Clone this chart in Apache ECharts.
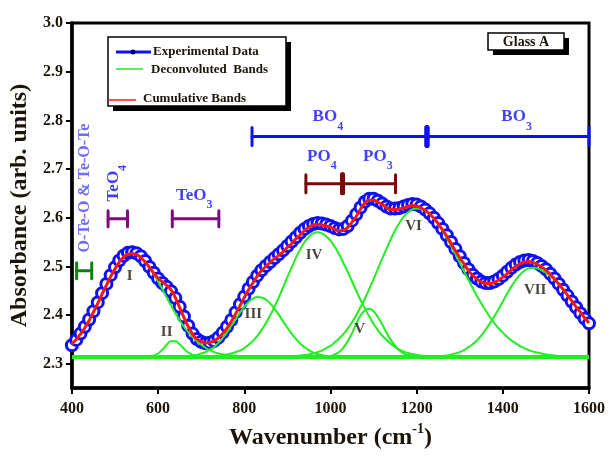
<!DOCTYPE html>
<html>
<head>
<meta charset="utf-8">
<script src="https://cdn.jsdelivr.net/npm/echarts@6/dist/echarts.min.js"></script>
<style>
  html, body { margin: 0; padding: 0; background: #fff; }
  #chart { width: 608px; height: 455px; }
</style>
</head>
<body>
<div id="chart"></div>
<script>
// ---- axis ticks ----
const xTicks = [400, 600, 800, 1000, 1200, 1400, 1600];
const yTicks = [2.3, 2.4, 2.5, 2.6, 2.7, 2.8, 2.9, 3.0];

// ---- spectra sampled every 10 cm-1 ----
const gridStep = 10;
const spectrumStart = 400;
const experimental = [
  2.338, 2.349, 2.362, 2.376, 2.391, 2.408, 2.426, 2.445, 2.464, 2.482,
  2.498, 2.512, 2.522, 2.528, 2.529, 2.527, 2.521, 2.511, 2.499, 2.487,
  2.475, 2.466, 2.458, 2.449, 2.435, 2.417, 2.397, 2.378, 2.362, 2.351,
  2.345, 2.342, 2.343, 2.347, 2.354, 2.364, 2.376, 2.390, 2.406, 2.422,
  2.438, 2.454, 2.468, 2.481, 2.492, 2.501, 2.509, 2.517, 2.525, 2.533,
  2.542, 2.551, 2.560, 2.569, 2.577, 2.583, 2.587, 2.589, 2.588, 2.586,
  2.583, 2.579, 2.576, 2.577, 2.583, 2.594, 2.607, 2.621, 2.633, 2.639,
  2.639, 2.635, 2.629, 2.623, 2.619, 2.619, 2.620, 2.623, 2.626, 2.628,
  2.627, 2.623, 2.617, 2.609, 2.600, 2.589, 2.577, 2.564, 2.550, 2.536,
  2.521, 2.507, 2.494, 2.483, 2.475, 2.469, 2.466, 2.466, 2.469, 2.474,
  2.481, 2.489, 2.497, 2.504, 2.509, 2.512, 2.513, 2.511, 2.507, 2.501,
  2.494, 2.485, 2.475, 2.464, 2.452, 2.440, 2.428, 2.416, 2.404, 2.393,
  2.383
];
const cumulative = [
  2.341, 2.350, 2.361, 2.374, 2.389, 2.406, 2.424, 2.443, 2.461, 2.479,
  2.495, 2.509, 2.519, 2.525, 2.526, 2.524, 2.518, 2.509, 2.498, 2.486,
  2.476, 2.468, 2.461, 2.452, 2.436, 2.416, 2.395, 2.376, 2.361, 2.351,
  2.346, 2.343, 2.344, 2.347, 2.353, 2.362, 2.373, 2.387, 2.403, 2.419,
  2.436, 2.452, 2.466, 2.480, 2.491, 2.500, 2.508, 2.516, 2.523, 2.530,
  2.539, 2.547, 2.557, 2.565, 2.574, 2.580, 2.585, 2.586, 2.585, 2.583,
  2.580, 2.576, 2.573, 2.574, 2.580, 2.591, 2.603, 2.618, 2.630, 2.636,
  2.636, 2.632, 2.627, 2.621, 2.617, 2.617, 2.618, 2.620, 2.623, 2.625,
  2.624, 2.620, 2.615, 2.608, 2.599, 2.588, 2.575, 2.562, 2.547, 2.532,
  2.518, 2.505, 2.492, 2.482, 2.474, 2.468, 2.465, 2.465, 2.467, 2.472,
  2.478, 2.485, 2.493, 2.500, 2.505, 2.509, 2.510, 2.508, 2.504, 2.499,
  2.492, 2.484, 2.474, 2.464, 2.453, 2.441, 2.429, 2.417, 2.406, 2.394,
  2.384
];

// ---- deconvoluted bands (each sampled every 10 cm-1 from its own start) ----
const baselineLevel = 2.314;
const bandNames = ['I', 'II', 'III', 'IV', 'V', 'VI', 'VII'];
const bandStarts = [400, 580, 660, 710, 980, 890, 1230];
const bandI = [
  2.341, 2.350, 2.361, 2.374, 2.389, 2.406, 2.424, 2.443, 2.461, 2.479,
  2.495, 2.509, 2.519, 2.525, 2.526, 2.524, 2.518, 2.509, 2.497, 2.484,
  2.469, 2.453, 2.436, 2.420, 2.404, 2.390, 2.376, 2.365, 2.355, 2.346,
  2.339, 2.333, 2.328, 2.324, 2.321, 2.319, 2.318, 2.317, 2.316, 2.315,
  2.314
];
const bandII = [
  2.315, 2.317, 2.321, 2.329, 2.339, 2.346, 2.346, 2.340, 2.331, 2.323,
  2.318, 2.315, 2.314
];
const bandIII = [
  2.315, 2.316, 2.317, 2.318, 2.321, 2.324, 2.329, 2.335, 2.343, 2.353,
  2.365, 2.378, 2.391, 2.405, 2.417, 2.427, 2.434, 2.437, 2.436, 2.432,
  2.424, 2.413, 2.401, 2.387, 2.374, 2.362, 2.351, 2.341, 2.334, 2.328,
  2.323, 2.320, 2.318, 2.316, 2.315, 2.314
];
const bandIV = [
  2.314, 2.315, 2.315, 2.316, 2.317, 2.319, 2.321, 2.324, 2.327, 2.332,
  2.339, 2.347, 2.357, 2.369, 2.383, 2.399, 2.417, 2.436, 2.457, 2.478,
  2.498, 2.518, 2.535, 2.550, 2.561, 2.568, 2.570, 2.568, 2.562, 2.553,
  2.540, 2.525, 2.507, 2.489, 2.469, 2.450, 2.431, 2.414, 2.397, 2.382,
  2.369, 2.358, 2.349, 2.341, 2.334, 2.329, 2.325, 2.322, 2.320, 2.318,
  2.317, 2.316, 2.315, 2.315, 2.314
];
const bandV = [
  2.314, 2.315, 2.316, 2.319, 2.324, 2.333, 2.346, 2.363, 2.382, 2.399,
  2.410, 2.413, 2.408, 2.396, 2.381, 2.364, 2.349, 2.337, 2.327, 2.321,
  2.318, 2.316, 2.315, 2.314
];
const bandVI = [
  2.314, 2.315, 2.315, 2.316, 2.317, 2.318, 2.319, 2.321, 2.324, 2.327,
  2.332, 2.337, 2.344, 2.352, 2.361, 2.372, 2.385, 2.400, 2.417, 2.434,
  2.454, 2.474, 2.495, 2.516, 2.536, 2.556, 2.574, 2.589, 2.602, 2.611,
  2.617, 2.619, 2.618, 2.614, 2.607, 2.598, 2.586, 2.573, 2.558, 2.542,
  2.525, 2.508, 2.490, 2.473, 2.456, 2.439, 2.424, 2.410, 2.396, 2.384,
  2.373, 2.364, 2.355, 2.348, 2.342, 2.336, 2.332, 2.328, 2.325, 2.323,
  2.321, 2.319, 2.318, 2.317, 2.316, 2.316, 2.315, 2.315, 2.314
];
const bandVII = [
  2.314, 2.315, 2.315, 2.316, 2.317, 2.319, 2.321, 2.324, 2.328, 2.334,
  2.340, 2.348, 2.358, 2.370, 2.383, 2.397, 2.412, 2.428, 2.444, 2.459,
  2.472, 2.483, 2.491, 2.496, 2.497, 2.496, 2.492, 2.487, 2.480, 2.472,
  2.462, 2.451, 2.440, 2.429, 2.417, 2.405, 2.394, 2.384
];
const bandValues = [bandI, bandII, bandIII, bandIV, bandV, bandVI, bandVII];

// band label anchors [wavenumber, absorbance]
const bandLabelX = [534, 620, 821, 962, 1068, 1193, 1475];
const bandLabelY = [2.481, 2.365, 2.402, 2.524, 2.372, 2.582, 2.451];

// ---- structural-unit ranges (cm-1) ----
const boEdges = [818, 1224, 1600];
const boLevel = 2.767;
const poEdges = [943, 1028, 1151];
const poLevel = 2.670;
const teo4Edges = [484, 529];
const teo3Edges = [633, 741];
const teLevel = 2.598;
const oteEdges = [411, 446];
const oteLevel = 2.491;

// ---- range captions: [text, wavenumber, absorbance] ----
const rangeCaptions = [
  ['{m|BO}{s|4}', 994, 2.804],
  ['{m|BO}{s|3}', 1432, 2.804],
  ['{m|PO}{s|4}', 980, 2.722],
  ['{m|PO}{s|3}', 1110, 2.722],
  ['{m|TeO}{s|3}', 684, 2.643]
];
const verticalCaptions = [
  ['{m|TeO}{s|4}', 500, 2.671],
  ['{v|O-Te-O & Te-O-Te}', 431, 2.661]
];

const SERIF = '"Liberation Serif", "Times New Roman", serif';
const BLUE = '#1010f5';
const GREEN = '#22ee22';
const RED = '#ff1414';
const INK = '#1c1408';

const toPairs = (start, vals) => vals.map((v, i) => [start + i * gridStep, v]);

function bracketData(edges, level) {
  const out = [];
  for (let i = 0; i < edges.length - 1; i++) {
    out.push([edges[i], edges[i + 1], level, i, edges.length - 1]);
  }
  return out;
}

function bracketSeries(edges, level, color, capHalf) {
  return {
    type: 'custom',
    z: 6,
    silent: true,
    data: bracketData(edges, level),
    renderItem: function (params, api) {
      const a = api.coord([api.value(0), api.value(2)]);
      const b = api.coord([api.value(1), api.value(2)]);
      const idx = api.value(3), n = api.value(4);
      const leftW = idx > 0 ? 5 : 3;
      const rightW = idx < n - 1 ? 5 : 3;
      const style = { stroke: color, lineWidth: 3, lineCap: 'round' };
      return {
        type: 'group',
        children: [
          { type: 'line', shape: { x1: a[0], y1: a[1], x2: b[0], y2: b[1] }, style: style },
          { type: 'line', shape: { x1: a[0], y1: a[1] - capHalf, x2: a[0], y2: a[1] + capHalf },
            style: { stroke: color, lineWidth: leftW, lineCap: 'round' } },
          { type: 'line', shape: { x1: b[0], y1: b[1] - capHalf, x2: b[0], y2: b[1] + capHalf },
            style: { stroke: color, lineWidth: rightW, lineCap: 'round' } }
        ]
      };
    }
  };
}

const captionRich = {
  m: { fontFamily: SERIF, fontWeight: 'bold', fontSize: 17, lineHeight: 20, verticalAlign: 'top', color: BLUE },
  s: { fontFamily: SERIF, fontWeight: 'bold', fontSize: 12, lineHeight: 13, padding: [12, 0, 0, 0], verticalAlign: 'top', color: BLUE },
  v: { fontFamily: SERIF, fontWeight: 'bold', fontSize: 16, lineHeight: 20, color: '#4a4af0' }
};

const series = [];

// baseline shared by all bands
series.push({
  type: 'line', silent: true, symbol: 'none', z: 2,
  data: [[xTicks[0], baselineLevel], [xTicks[xTicks.length - 1], baselineLevel]],
  lineStyle: { color: GREEN, width: 4 }
});

bandValues.forEach((vals, i) => {
  series.push({
    name: 'Band ' + bandNames[i],
    type: 'line', silent: true, symbol: 'none', smooth: true, z: 4,
    data: toPairs(bandStarts[i], vals),
    lineStyle: { color: GREEN, width: 2 }
  });
});

series.push({
  name: 'Experimental Data',
  type: 'line', silent: true, z: 3,
  data: toPairs(spectrumStart, experimental),
  symbol: 'circle', symbolSize: 11, showAllSymbol: true,
  itemStyle: { color: '#ffffff', borderColor: BLUE, borderWidth: 3 },
  lineStyle: { color: BLUE, width: 2 }
});

series.push({
  name: 'Cumulative Bands',
  type: 'line', silent: true, symbol: 'none', smooth: true, z: 5,
  data: toPairs(spectrumStart, cumulative),
  lineStyle: { color: RED, width: 3 }
});

series.push(bracketSeries(boEdges, boLevel, BLUE, 9));
series.push(bracketSeries(poEdges, poLevel, '#7a0a0a', 9));
series.push(bracketSeries(teo4Edges, teLevel, '#800a80', 8));
series.push(bracketSeries(teo3Edges, teLevel, '#800a80', 8));
series.push(bracketSeries(oteEdges, oteLevel, '#108010', 8));

// band numerals and range captions
series.push({
  type: 'scatter', silent: true, z: 7, symbolSize: 1,
  itemStyle: { color: 'rgba(0,0,0,0)' },
  data: bandNames.map((n, i) => ({
    value: [bandLabelX[i], bandLabelY[i]],
    label: { show: true, position: 'inside', formatter: n,
      fontFamily: SERIF, fontWeight: 'bold', fontSize: 15, color: INK }
  })).concat(rangeCaptions.map(c => ({
    value: [c[1], c[2]],
    label: { show: true, position: 'inside', formatter: c[0], rich: captionRich }
  }))).concat(verticalCaptions.map(c => ({
    value: [c[1], c[2]],
    label: { show: true, position: 'inside', rotate: 90, formatter: c[0], rich: captionRich }
  })))
});

const chart = echarts.init(document.getElementById('chart'), null, { renderer: 'canvas' });
chart.setOption({
  animation: false,
  backgroundColor: '#ffffff',
  grid: { left: 70, right: 17, top: 23, bottom: 53.5, show: true, borderColor: '#000', borderWidth: 3, containLabel: false },
  xAxis: {
    type: 'value', min: xTicks[0], max: xTicks[xTicks.length - 1], interval: 200,
    name: '{t|Wavenumber (cm}{sup|-1}{t|)}',
    nameLocation: 'middle', nameGap: 26,
    nameTextStyle: {
      rich: {
        t: { fontFamily: SERIF, fontWeight: 'bold', fontSize: 24, lineHeight: 28, verticalAlign: 'bottom', color: INK },
        sup: { fontFamily: SERIF, fontWeight: 'bold', fontSize: 14, lineHeight: 14, verticalAlign: 'top', color: INK }
      }
    },
    axisLine: { show: true, onZero: false, lineStyle: { color: '#000', width: 3.5 } },
    axisTick: { show: true, inside: false, length: 6, lineStyle: { color: '#000', width: 2 } },
    axisLabel: { margin: 13, fontFamily: SERIF, fontWeight: 'bold', fontSize: 16, color: INK,
      formatter: v => String(v) },
    splitLine: { show: false }
  },
  yAxis: {
    type: 'value', min: 2.25, max: 3.0,
    name: 'Absorbance (arb. units)',
    nameLocation: 'middle', nameGap: 27, nameRotate: 90,
    nameTextStyle: { fontFamily: SERIF, fontWeight: 'bold', fontSize: 24, color: INK },
    axisLine: { show: true, onZero: false, lineStyle: { color: '#000', width: 3.5 } },
    axisTick: { show: true, inside: false, length: 6, customValues: yTicks, lineStyle: { color: '#000', width: 2 } },
    axisLabel: { margin: 9, customValues: yTicks, fontFamily: SERIF, fontWeight: 'bold', fontSize: 16, color: INK,
      formatter: v => v.toFixed(1) },
    splitLine: { show: false }
  },
  series: series,
  graphic: [
    // legend panel with drop shadow
    { type: 'rect', shape: { x: 113, y: 42, width: 178, height: 69 }, style: { fill: '#000' }, z: 20 },
    { type: 'rect', shape: { x: 108, y: 37, width: 178, height: 69 }, style: { fill: '#fff', stroke: '#000', lineWidth: 1.5 }, z: 21 },
    { type: 'line', shape: { x1: 116, y1: 52, x2: 151, y2: 52 }, style: { stroke: BLUE, lineWidth: 3 }, z: 22 },
    { type: 'circle', shape: { cx: 133, cy: 52, r: 2.5 }, style: { fill: '#000070' }, z: 23 },
    { type: 'text', x: 153, y: 52, style: { text: 'Experimental Data', font: 'bold 13px ' + SERIF, fill: INK, verticalAlign: 'middle' }, z: 22 },
    { type: 'line', shape: { x1: 116, y1: 69, x2: 143, y2: 69 }, style: { stroke: GREEN, lineWidth: 1.5 }, z: 22 },
    { type: 'text', x: 151, y: 70, style: { text: 'Deconvoluted  Bands', font: 'bold 13px ' + SERIF, fill: INK, verticalAlign: 'middle' }, z: 22 },
    { type: 'line', shape: { x1: 108, y1: 100, x2: 136, y2: 100 }, style: { stroke: RED, lineWidth: 1.5 }, z: 22 },
    { type: 'text', x: 143, y: 99, style: { text: 'Cumulative Bands', font: 'bold 13px ' + SERIF, fill: INK, verticalAlign: 'middle' }, z: 22 },
    // sample tag
    { type: 'rect', shape: { x: 493, y: 38, width: 76, height: 17 }, style: { fill: '#000' }, z: 20 },
    { type: 'rect', shape: { x: 488, y: 33, width: 76, height: 17 }, style: { fill: '#fff', stroke: '#000', lineWidth: 1.5 }, z: 21 },
    { type: 'text', x: 526, y: 42, style: { text: 'Glass A', font: 'bold 14px ' + SERIF, fill: INK, align: 'center', verticalAlign: 'middle' }, z: 22 }
  ]
});
</script>
</body>
</html>
